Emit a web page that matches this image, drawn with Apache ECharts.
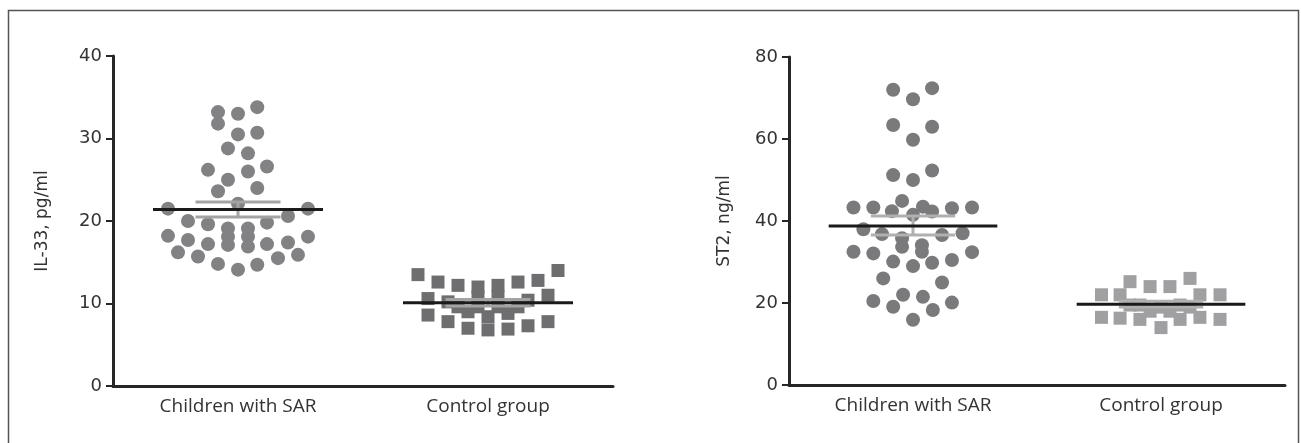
<!DOCTYPE html>
<html>
<head>
<meta charset="utf-8">
<script src="https://cdn.jsdelivr.net/npm/echarts@6/dist/echarts.min.js"></script>
<style>html,body{margin:0;padding:0;background:#fff}#c{width:1301px;height:443px}</style>
</head>
<body>
<div id="c"></div>
<script>
// ---- data ----
const categories = ['Children with SAR', 'Control group'];
const leftYTicks = [0, 10, 20, 30, 40];
const rightYTicks = [0, 20, 40, 60, 80];
const leftAxisName = 'IL-33, pg/ml';
const rightAxisName = 'ST2, ng/ml';

// [offset within category (category units), value]
const il33SAR = [
  [-0.08,33.2],[-0.08,31.8],[0,33.0],[0.077,33.8],[0,30.5],[0.077,30.7],
  [-0.04,28.8],[0.04,28.2],[-0.12,26.2],[0.04,26.0],[0.116,26.6],[-0.04,25.0],
  [-0.08,23.6],[0.077,24.0],[0,22.1],[-0.28,21.5],[0.28,21.5],[0.2,20.6],
  [-0.2,20.0],[-0.12,19.6],[0.116,19.8],[-0.04,19.1],[0.04,19.1],[-0.04,18.1],
  [0.04,18.1],[-0.28,18.2],[-0.2,17.7],[0.28,18.1],[-0.12,17.2],[-0.04,17.1],
  [0.04,16.9],[0.116,17.2],[0.2,17.4],[-0.24,16.2],[-0.16,15.7],[-0.08,14.8],
  [0,14.1],[0.077,14.7],[0.16,15.5],[0.24,15.9]
];
const il33Control = [
  [-0.28,13.5],[-0.2,12.6],[-0.12,12.2],[-0.04,12.0],[0.04,12.2],[0.12,12.6],
  [0.2,12.8],[0.28,14.0],[-0.24,10.6],[-0.16,10.2],[0.16,10.4],[0.24,11.0],
  [-0.04,10.8],[0.04,10.8],[-0.04,9.6],[0.04,9.6],[-0.12,9.6],[0.12,9.6],
  [-0.08,9.0],[0.08,8.8],[0,8.4],[-0.24,8.6],[-0.16,7.8],[-0.08,7.0],
  [0,6.8],[0.08,6.9],[0.16,7.3],[0.24,7.8]
];
const st2SAR = [
  [-0.08,72.0],[0,69.7],[0.077,72.4],[-0.08,63.4],[0,59.8],[0.077,63.0],
  [-0.08,51.2],[0,50.0],[0.077,52.3],[-0.24,43.3],[-0.16,43.3],[-0.044,44.9],
  [0.04,43.5],[0.157,43.1],[0.238,43.3],[-0.085,42.4],[0.077,42.3],[0,41.5],
  [-0.2,38.0],[-0.125,36.8],[-0.044,35.8],[0.036,34.1],[0.117,36.6],[0.2,37.0],
  [-0.044,33.7],[0.036,32.5],[-0.24,32.5],[-0.16,32.1],[-0.08,30.1],[0,29.0],
  [0.077,29.8],[0.157,30.5],[0.238,32.4],[-0.12,26.0],[0.117,25.0],[-0.16,20.5],
  [-0.08,19.1],[-0.04,22.0],[0.04,21.5],[0.08,18.3],[0.157,20.1],[0,15.9]
];
const st2Control = [
  [-0.24,22.0],[-0.24,16.5],[-0.165,22.0],[-0.165,16.3],[-0.125,25.2],[-0.044,24.0],
  [0.036,24.0],[0.117,26.0],[0.157,22.0],[-0.085,19.5],[0,19.0],[0.077,19.5],
  [-0.085,16.0],[0,14.0],[0.077,16.0],[0.157,16.5],[0.238,22.0],[0.238,16.0],
  [-0.044,18.0],[0.036,18.0],[0.117,19.0],[-0.125,19.5]
];
// mean and SEM bounds per category
const il33Mean = [21.4, 10.1];
const il33Sem = [[20.5, 22.3], [9.7, 10.5]];
const st2Mean = [38.8, 19.7];
const st2Sem = [[36.6, 41.2], [19.0, 20.4]];

// ---- chart ----
const chart = echarts.init(document.getElementById('c'));
const FONT = 'DejaVu Sans';
const AXIS_COLOR = '#262626';

function catAxis(gi) {
  return {
    type: 'category', gridIndex: gi, data: categories, boundaryGap: true,
    axisLine: { lineStyle: { color: AXIS_COLOR, width: 3 } },
    axisTick: { alignWithLabel: true, length: 6, lineStyle: { color: AXIS_COLOR, width: 2 } },
    axisLabel: { fontFamily: 'Open Sans', fontSize: 19, color: '#333', margin: 11 },
    splitLine: { show: false }
  };
}
function valXAxis(gi) {
  return { type: 'value', gridIndex: gi, min: 0, max: 2, show: false };
}
function yAxis(gi, ticks, name, gap) {
  return {
    type: 'value', gridIndex: gi, min: ticks[0], max: ticks[ticks.length - 1],
    interval: ticks[1] - ticks[0],
    name: name, nameLocation: 'middle', nameGap: gap,
    nameTextStyle: { fontFamily: FONT, fontSize: 17, color: '#333' },
    axisLine: { show: true, lineStyle: { color: AXIS_COLOR, width: 3 } },
    axisTick: { show: true, length: 7, lineStyle: { color: AXIS_COLOR, width: 2 } },
    axisLabel: { fontFamily: FONT, fontSize: 18, color: '#333', margin: 11 },
    splitLine: { show: false }
  };
}
function pts(arr, ci) { return arr.map(p => [ci + 0.5 + p[0], p[1]]); }
function scatter(arr, ci, xi, yi, sym, size, color) {
  return {
    type: 'scatter', xAxisIndex: xi, yAxisIndex: yi, data: pts(arr, ci),
    symbol: sym, symbolSize: size, itemStyle: { color: color, opacity: 1 },
    silent: true, z: 2
  };
}
function hline(ci, v, half, xi, yi, color, z) {
  return {
    type: 'line', xAxisIndex: xi, yAxisIndex: yi, symbol: 'none', silent: true, z: z,
    data: [[ci + 0.5 - half, v], [ci + 0.5 + half, v]],
    lineStyle: { color: color, width: 3 }, animation: false
  };
}
function vline(ci, lo, hi, xi, yi, color, z) {
  return {
    type: 'line', xAxisIndex: xi, yAxisIndex: yi, symbol: 'none', silent: true, z: z,
    data: [[ci + 0.5, lo], [ci + 0.5, hi]],
    lineStyle: { color: color, width: 3 }, animation: false
  };
}
function summary(means, sems, xi, yi, semColor) {
  const s = [];
  means.forEach((m, ci) => {
    s.push(vline(ci, sems[ci][0], sems[ci][1], xi, yi, semColor, 3));
    s.push(hline(ci, sems[ci][0], 0.17, xi, yi, semColor, 3));
    s.push(hline(ci, sems[ci][1], 0.17, xi, yi, semColor, 3));
    s.push(hline(ci, m, 0.34, xi, yi, '#1a1a1a', 4));
  });
  return s;
}

const option = {
  animation: false,
  backgroundColor: '#fff',
  grid: [
    { left: 113, top: 56, width: 500, height: 330 },
    { left: 789, top: 57, width: 496, height: 328 }
  ],
  xAxis: [catAxis(0), valXAxis(0), catAxis(1), valXAxis(1)],
  yAxis: [yAxis(0, leftYTicks, leftAxisName, 62), yAxis(1, rightYTicks, rightAxisName, 56)],
  graphic: [{
    type: 'rect', shape: { x: 8.5, y: 10.5, width: 1290, height: 460 },
    style: { fill: 'none', stroke: '#555', lineWidth: 1.5 }, silent: true
  }],
  series: [
    scatter(il33SAR, 0, 1, 0, 'circle', 14, '#828285'),
    scatter(il33Control, 1, 1, 0, 'rect', 13, '#6e6e71'),
    scatter(st2SAR, 0, 3, 1, 'circle', 14, '#7a7a7d'),
    scatter(st2Control, 1, 3, 1, 'rect', 13, '#a0a0a3')
  ].concat(summary(il33Mean, il33Sem, 1, 0, '#a3a3a3'))
   .concat(summary(st2Mean, st2Sem, 3, 1, '#b0b0b0'))
};
chart.setOption(option);
</script>
</body>
</html>
